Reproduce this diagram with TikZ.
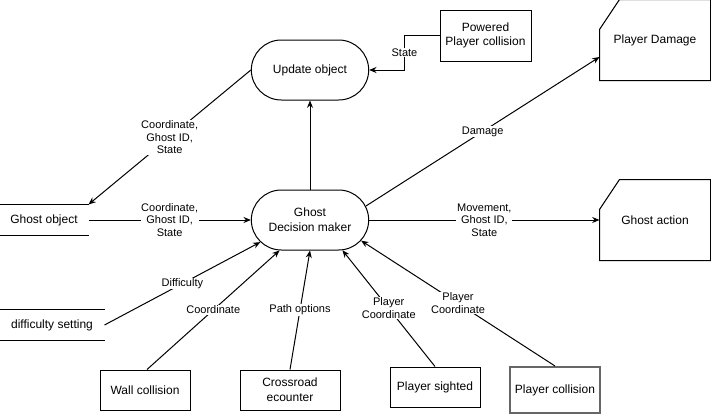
\documentclass[tikz,border=0pt]{standalone}
\usepackage{fontspec}
\setmainfont{Liberation Sans}
\usepackage{tikz}
\usetikzlibrary{shapes.misc, arrows.meta}

\begin{document}
\begin{tikzpicture}[
        x=0.75pt, y=-0.75pt,
        every node/.style={font=\fontsize{9}{11}\selectfont, inner sep=1pt},
        process/.style={draw, rounded rectangle, minimum width=90pt, minimum height=45pt, align=center},
        entity/.style={draw, rectangle, minimum width=67.5pt, minimum height=30pt, align=center},
        store/.style={minimum width=66pt, minimum height=22.5pt},
        card/.style={minimum width=82.5pt, minimum height=60pt},
        flow/.style={line width=0.75pt, -{Stealth[length=5.5pt, width=4.5pt]}},
        lbl/.style={fill=white, align=center, inner sep=0.5pt, font=\fontsize{8.25}{9.5}\selectfont}
    ]
    \useasboundingbox (0,0) rectangle (711,414);
    \tikzset{every path/.style={line width=0.75pt}}

    % processes
    \node[process] (upd) at (310,70) {Update object};
    \node[process] (gdm) at (310,220) {Ghost\\Decision maker};

    % external entities
    \node[entity, minimum width=68.25pt, minimum height=38.25pt] (pow) at (485.5,35.5) {Powered\\Player collision};
    \node[entity] (wall) at (145,390) {Wall collision};
    \node[entity, minimum width=75pt] (cross) at (290,390) {Crossroad\\ecounter};
    \node[entity] (seen) at (435,387) {Player sighted};
    \node[entity, minimum height=34.5pt, draw={rgb,255:red,102;green,102;blue,102}, line width=1.5pt] (pcol) at (555,390) {Player collision};

    % data stores
    \node[store] (gobj) at (44,220) {Ghost object};
    \node[store, minimum width=78pt] (dset) at (52,325) {difficulty setting};
    \foreach \n in {gobj,dset}
        \draw (\n.north west) -- (\n.north east) (\n.south west) -- (\n.south east);

    % outputs
    \node[card] (dmg) at (655,40) {Player Damage};
    \node[card] (act) at (655,220) {Ghost action};
    \foreach \n in {dmg,act}
        \draw ([xshift=15pt]\n.north west) -- (\n.north east) -- (\n.south east)
            -- (\n.south west) -- ([yshift=-22.5pt]\n.north west) -- cycle;

    % flows
    \draw[flow] (gdm.north) -- (upd.south);
    \draw[flow] (pow.west) -- ++(-35,0) |- node[lbl, pos=0.25] {State} (upd.east);
    \draw[flow] (upd.west) -- node[lbl] {Coordinate,\\Ghost ID,\\State} (gobj.north east);
    \draw[flow] (gobj.east) -- node[lbl] {Coordinate,\\Ghost ID,\\State} (gdm.west);
    \draw[flow] (gdm.14) -- node[lbl] {Damage} ([yshift=-12.75pt]dmg.west);
    \draw[flow] (gdm.east) -- node[lbl] {Movement,\\Ghost ID,\\State} (act.west);
    \draw[flow] (dset.east) -- node[lbl] {Difficulty} (gdm.204);
    \draw[flow] ([xshift=1.5pt]wall.north) -- node[lbl] {Coordinate} (gdm.225);
    \draw[flow] (cross.north) -- node[lbl] {Path options} (gdm.south);
    \draw[flow] (seen.north) -- node[lbl] {Player\\Coordinate} (gdm.-43);
    \draw[flow] (pcol.north) -- node[lbl] {Player\\Coordinate} (gdm.-22);
\end{tikzpicture}
\end{document}
